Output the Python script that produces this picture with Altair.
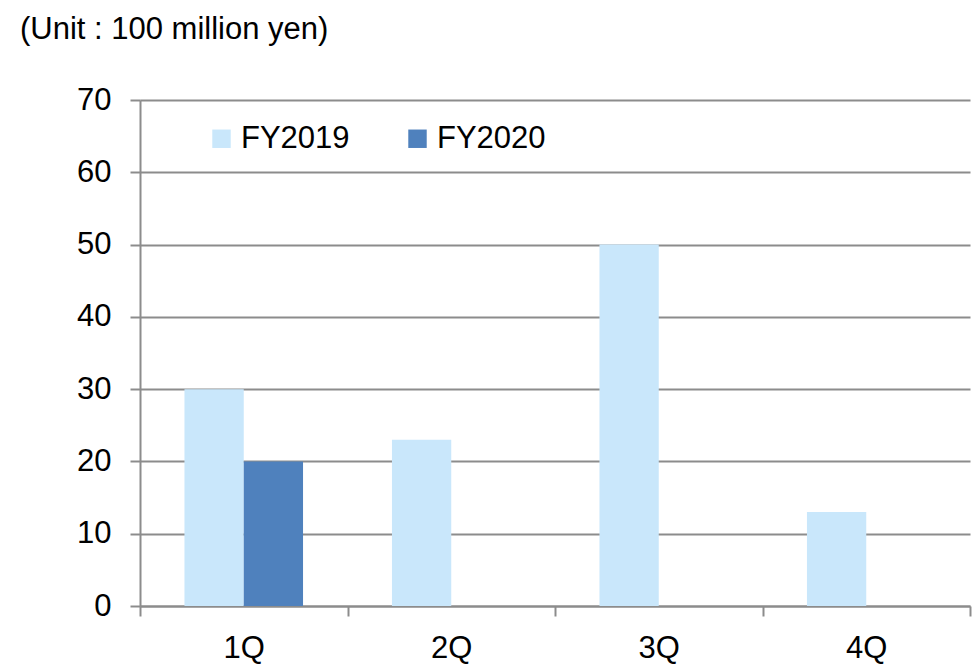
import altair as alt
import pandas as pd

quarters = ["1Q", "2Q", "3Q", "4Q"]
fy2019 = [30, 23, 50, 13]
fy2020 = [20, None, None, None]
series = ["FY2019", "FY2020"]
colors = ["#C9E7FB", "#4F81BD"]

rows = []
for q, a, b in zip(quarters, fy2019, fy2020):
    if a is not None:
        rows.append({"quarter": q, "series": "FY2019", "value": a})
    if b is not None:
        rows.append({"quarter": q, "series": "FY2020", "value": b})
df = pd.DataFrame(rows)

FONT = "Liberation Sans"
GRAY = "#8c8c8c"
FS = 31

chart = alt.Chart(df).mark_bar().encode(
    x=alt.X("quarter:N", sort=quarters,
            scale=alt.Scale(domain=quarters, paddingInner=0, paddingOuter=0),
            axis=alt.Axis(title=None, labelAngle=0, tickBand="extent", tickSize=10,
                          tickWidth=2, tickColor=GRAY, domainColor=GRAY, domainWidth=2,
                          labelPadding=17, labelFontSize=FS, labelFont=FONT,
                          labelColor="black", grid=False)),
    xOffset=alt.XOffset("series:N", scale=alt.Scale(domain=series, paddingInner=0, paddingOuter=0.75)),
    y=alt.Y("value:Q", scale=alt.Scale(domain=[0, 70], nice=False),
            axis=alt.Axis(title=None, values=list(range(0, 80, 10)), grid=True,
                          gridColor=GRAY, gridWidth=2, domainColor=GRAY, domainWidth=2,
                          tickColor=GRAY, tickWidth=2, tickSize=10, labelPadding=19,
                          labelFontSize=FS, labelFont=FONT, labelColor="black")),
    color=alt.Color("series:N", scale=alt.Scale(domain=series, range=colors),
                    legend=alt.Legend(orient="none", legendX=66, legendY=23,
                                      direction="horizontal", title=None,
                                      symbolType="square", symbolSize=340,
                                      symbolStrokeWidth=0, labelFontSize=FS,
                                      labelFont=FONT, labelColor="black",
                                      columnPadding=52, labelOffset=4)),
).properties(
    width=830,
    height=506,
    autosize=alt.AutoSizeParams(type="none"),
    padding={"left": 140, "top": 100, "right": 8, "bottom": 63},
    title=alt.Title("(Unit : 100 million yen)", anchor="start", frame="group",
                    dx=-120, offset=38, fontSize=FS, font=FONT,
                    fontWeight="normal", color="black"),
).configure_view(stroke=None)

chart.save("out.html", embed_options={"renderer": "svg", "actions": False})
